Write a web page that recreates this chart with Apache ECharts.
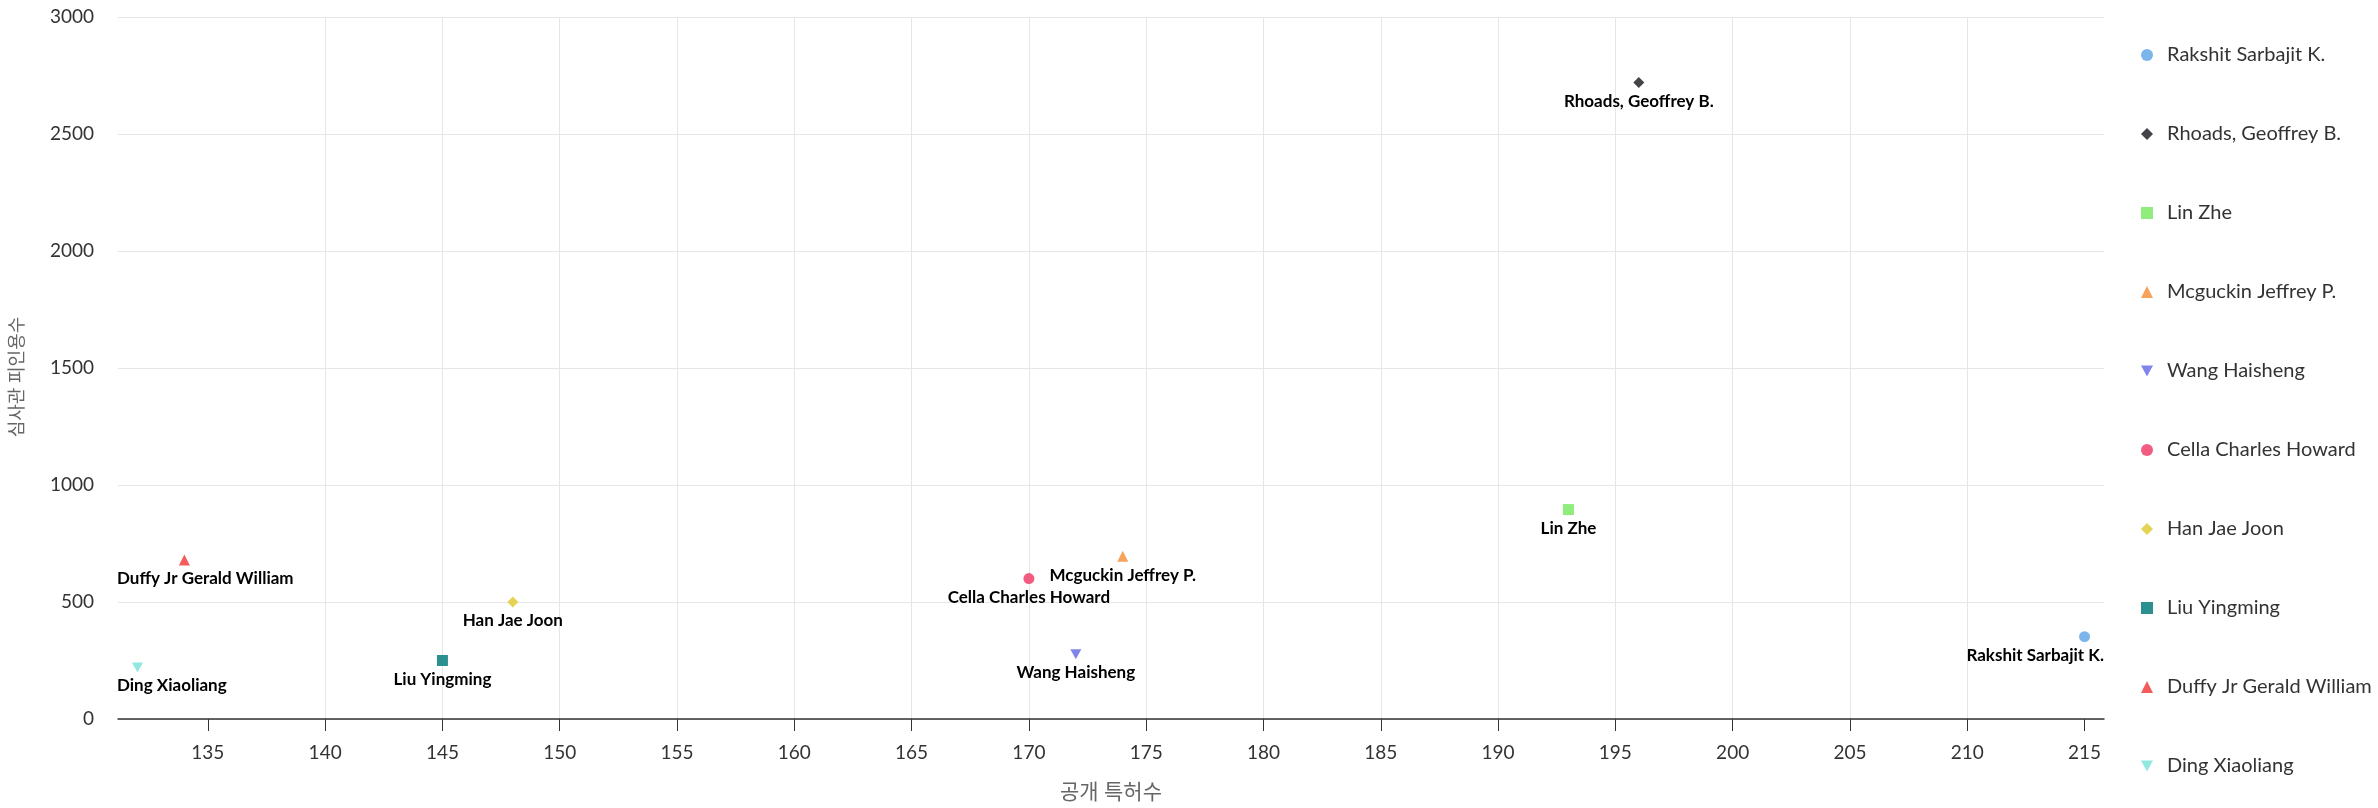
<!DOCTYPE html>
<html>
<head>
<meta charset="utf-8">
<script src="https://cdn.jsdelivr.net/npm/echarts@6/dist/echarts.min.js"></script>
<style>
  html, body { margin: 0; padding: 0; background: #fff; }
  #chart { width: 2378px; height: 808px; }
</style>
</head>
<body>
<div id="chart"></div>
<script>
// 발명자별 공개 특허수 / 심사관 피인용수
const names = [
  'Rakshit Sarbajit K.', 'Rhoads, Geoffrey B.', 'Lin Zhe', 'Mcguckin Jeffrey P.',
  'Wang Haisheng', 'Cella Charles Howard', 'Han Jae Joon', 'Liu Yingming',
  'Duffy Jr Gerald William', 'Ding Xiaoliang'
];
const patents = [215, 196, 193, 174, 172, 170, 148, 145, 134, 132];
const citations = [352, 2720, 895, 695, 277, 600, 500, 250, 680, 220];
const xTicks = [135, 140, 145, 150, 155, 160, 165, 170, 175, 180, 185, 190, 195, 200, 205, 210, 215];

const colors = ['#7cb5ec', '#434348', '#90ed7d', '#f7a35c', '#8085e9',
                '#f15c80', '#e4d354', '#2b908f', '#f45b5b', '#91e8e1'];
// circle, diamond, square, triangle, triangle-down (반복)
const downTri = 'path://M0,0 L10,0 L5,9 Z';
const symbols = ['circle', 'diamond', 'rect', 'triangle', downTri];

const FONT = 'Lato, "Noto Sans CJK KR", sans-serif';
const LABEL_SIZE = 17;
const GRID = { left: 117, right: 274, top: 17, bottom: 89 };

const chart = echarts.init(document.getElementById('chart'));

const series = names.map((name, i) => ({
  name,
  type: 'scatter',
  data: [[patents[i], citations[i]]],
  symbol: symbols[i % 5],
  symbolSize: 11,
  symbolKeepAspect: true,
  itemStyle: { color: colors[i], opacity: 1 },
  label: {
    show: true,
    position: 'bottom',
    distance: 5,
    formatter: '{a}',
    color: '#000',
    fontSize: LABEL_SIZE,
    fontWeight: 'bold',
    fontFamily: FONT,
    textBorderColor: '#fff',
    textBorderWidth: 1
  }
}));

chart.setOption({
  animation: false,
  textStyle: { fontFamily: FONT },
  grid: GRID,
  legend: {
    orient: 'vertical',
    left: 2136,
    top: 40,
    itemWidth: 12,
    itemHeight: 12,
    itemGap: 59,
    textStyle: { fontSize: 20, color: '#333', fontFamily: FONT, padding: [0, 0, 0, 9] },
    data: names
  },
  xAxis: {
    type: 'value',
    min: (v) => v.min - (v.max - v.min) * 0.01,
    max: (v) => v.max + (v.max - v.min) * 0.01,
    name: '공개 특허수',
    nameLocation: 'middle',
    nameGap: 63,
    nameTextStyle: { fontSize: 21, color: '#666', fontFamily: FONT },
    axisLine: { lineStyle: { color: '#333', width: 1.5 } },
    axisTick: { show: true, length: 12, lineStyle: { color: '#333' }, customValues: xTicks },
    axisLabel: { fontSize: 19, color: '#333', margin: 24, customValues: xTicks },
    splitLine: { show: true, showMinLine: false, showMaxLine: false, lineStyle: { color: '#e6e6e6' } }
  },
  yAxis: {
    type: 'value',
    min: 0,
    max: 3000,
    interval: 500,
    name: '심사관 피인용수',
    nameLocation: 'middle',
    nameGap: 92,
    nameTextStyle: { fontSize: 18, color: '#666', fontFamily: FONT, padding: [0, 18, 0, 0] },
    axisLine: { show: false },
    axisTick: { show: false },
    axisLabel: { fontSize: 19, color: '#333', margin: 24, formatter: (v) => String(v) },
    splitLine: { lineStyle: { color: '#e6e6e6' } }
  },
  series
});

// 라벨이 플롯 영역 밖으로 나가지 않도록 좌우로 밀어 넣기
const ctx = document.createElement('canvas').getContext('2d');
ctx.font = `bold ${LABEL_SIZE}px ${FONT}`;
const plotLeft = GRID.left;
const plotRight = 2378 - GRID.right;
chart.setOption({
  series: names.map((name, i) => {
    const px = chart.convertToPixel({ xAxisIndex: 0 }, patents[i]);
    const half = ctx.measureText(name).width / 2;
    let dx = 0;
    if (px - half < plotLeft) dx = plotLeft - (px - half);
    if (px + half > plotRight) dx = plotRight - (px + half);
    return { label: { offset: [dx, 0] } };
  })
});
</script>
</body>
</html>
